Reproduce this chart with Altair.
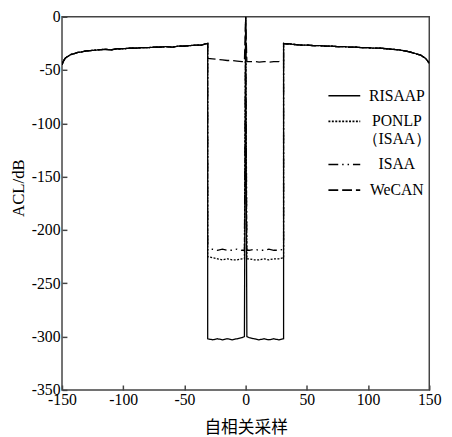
import altair as alt
import pandas as pd

series = ["RISAAP", "PONLP（ISAA）", "ISAA", "WeCAN"]
dash_patterns = [[1, 0], [2, 1.5], [10, 4, 1.5, 4, 1.5, 4], [10, 4]]
x_ticks = [-150, -100, -50, 0, 50, 100, 150]
y_ticks = [-350, -300, -250, -200, -150, -100, -50, 0]

# shared sidelobe region (left of -31 and right of +31)
left_lags = [-150, -149, -148, -147, -145, -143, -140, -137, -134, -130, -125, -120, -115, -110,
             -105, -100, -95, -90, -85, -80, -75, -70, -65, -60, -55, -50, -45, -40, -36, -33, -31]
left_acl = [-45, -42, -40, -38.5, -37, -35.5, -34.5, -33.5, -33, -32, -31.5, -31, -30.5, -31,
            -30, -30, -29.5, -29.5, -29, -29, -28.5, -28.5, -28, -28.5, -27.5, -27.5, -27, -26.5, -26.5, -25.5, -25]
right_lags = [31, 33, 36, 40, 45, 50, 55, 60, 65, 70, 75, 80, 85, 90, 95, 100, 105, 110,
              115, 120, 125, 130, 134, 137, 140, 143, 145, 147, 148, 149, 150]
right_acl = [-25, -25.5, -25.5, -26, -26.5, -26.5, -27, -27, -27.5, -27.5, -28, -28, -28.5, -28.5,
             -29, -29, -29.5, -29.5, -30, -30.5, -31, -32, -33, -34, -35, -36, -37.5, -39, -40.5, -42, -43.5]

# central region (between the two edges), with mainlobe at lag 0
center_lags = [-31, -27, -23, -19, -15, -11, -7, -3, -1, 0, 1, 3, 7, 11, 15, 19, 23, 27, 31]
risaap_center = [-302, -303, -302, -303, -302, -303, -302, -301, -300, 0, -300, -301, -302, -303,
                 -302, -303, -302, -303, -302]
ponlp_center = [-225, -226, -227, -228, -227, -228, -228, -227, -227, 0, -227, -227, -228, -228,
                -227, -228, -227, -227, -226]
isaa_center = [-219, -218, -219, -218, -219, -219, -218, -219, -219, 0, -219, -219, -218, -219,
               -219, -218, -219, -219, -218]
wecan_center = [-39, -39.5, -40, -40.5, -41, -41, -41.5, -42, -42, 0, -42, -42, -42, -42.5,
                -42, -42.5, -42, -42, -41.5]
centers = [risaap_center, ponlp_center, isaa_center, wecan_center]

rows = []
for name, cvals in zip(series, centers):
    xs = left_lags + center_lags + right_lags
    ys = left_acl + cvals + right_acl
    for i, (x, y) in enumerate(zip(xs, ys)):
        rows.append({"lag": x, "acl": y, "series": name, "idx": i})
df = pd.DataFrame(rows)

chart = alt.Chart(df).mark_line(strokeWidth=1.3, color="black", clip=True).encode(
    x=alt.X("lag:Q", scale=alt.Scale(domain=[-150, 150], nice=False, zero=False),
            axis=alt.Axis(values=x_ticks, title="自相关采样", titleFont="Noto Sans CJK SC",
                          titleFontSize=17, titlePadding=12, labelPadding=2, labelFlush=False,
                          labelExpr="toString(datum.value)")),
    y=alt.Y("acl:Q", scale=alt.Scale(domain=[-350, 0], nice=False),
            axis=alt.Axis(values=y_ticks, title="ACL/dB", titleFont="Liberation Serif",
                          titleFontSize=17, titlePadding=4, labelPadding=2, labelFlush=False,
                          titleY=174, labelExpr="toString(datum.value)")),
    strokeDash=alt.StrokeDash("series:N", scale=alt.Scale(domain=series, range=dash_patterns),
                              legend=alt.Legend(
                                  title=None, orient="none", legendX=270, legendY=63,
                                  symbolType="stroke", symbolSize=1050, symbolStrokeWidth=1.6,
                                  symbolStrokeColor="black", labelFont="Liberation Serif",
                                  labelFontSize=16, labelColor="black", labelOffset=36,
                                  labelAlign="center",
                                  rowPadding=0, padding=0,
                                  labelExpr="datum.label == 'PONLP（ISAA）' ? ['PONLP', '（ISAA）'] : datum.label")),
    order="idx:Q",
).properties(
    width=374, height=380,
    autosize=alt.AutoSizeParams(type="none"),
    padding={"left": 55, "top": 5, "right": 15, "bottom": 44},
).configure_view(
    stroke="#444", strokeWidth=1.5
).configure_axis(
    grid=False, domain=False, tickSize=5, offset=-5, tickColor="#444", tickWidth=1.5,
    labelFont="Liberation Serif", labelFontSize=16, labelColor="black",
    titleFontWeight="normal", titleColor="black",
)

chart.save("out.html", embed_options={"renderer": "svg", "actions": False})
